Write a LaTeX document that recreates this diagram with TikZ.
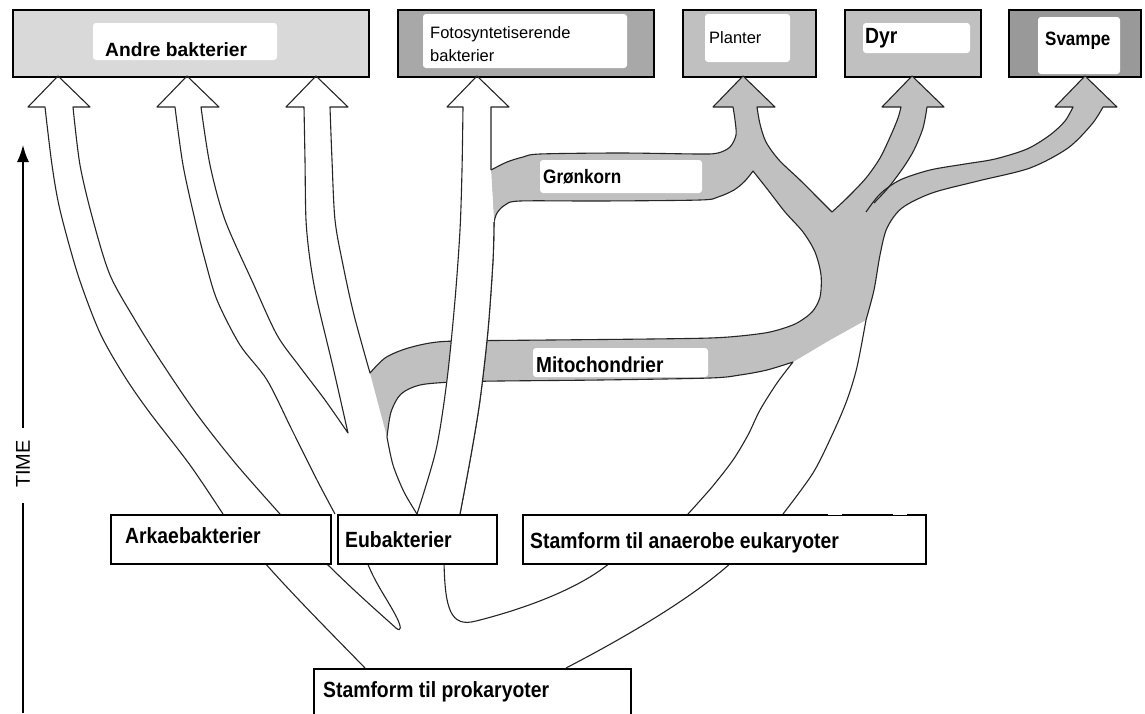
\documentclass[tikz,border=0pt]{standalone}
\usepackage{fontspec}
\setmainfont{Liberation Sans}
\newfontfamily\narrowsans[FakeStretch=0.88]{Liberation Sans}
\usetikzlibrary{arrows.meta}
\definecolor{bandgrey}{RGB}{192,192,192}
\definecolor{boxlight}{RGB}{217,217,217}
\definecolor{boxmid}{RGB}{192,192,192}
\definecolor{boxdark}{RGB}{168,168,168}
\definecolor{boxdarker}{RGB}{153,153,153}

% edges of the bands, #1 = connector in front of the plot
\newcommand\tiphead[2]{-- (#1-30,107) -- (#1,76) -- (#1+32,107) -- (#2,107)}
\newcommand\arrowCR[1]{#1 plot[smooth] coordinates {(330,107) (332,160) (335,220) (343,265) (354,315) (370,373)}}
\newcommand\mitoTop[1]{#1 plot[smooth] coordinates {(370,373) (385,358) (405,349) (430,343) (457,341) (550,340) (650,339) (710,338) (740,336) (770,332) (795,324) (812,312) (820,297) (821,275) (815,252) (803,232) (785,212) (768,190) (753,171)}}
\newcommand\gronBot[1]{#1 plot[smooth] coordinates {(753,171) (745,181) (734,190) (718,197) (700,200) (600,201) (520,201) (505,205) (497,213) (494,222)}}
\newcommand\gronTop[1]{#1 plot[smooth] coordinates {(491,170) (507,162) (523,157) (540,154) (620,153) (700,154) (718,153) (730,147) (736,135) (735,120) (733,107)}}
\newcommand\plantR[1]{#1 plot[smooth] coordinates {(757,107) (760,124) (766,142) (779,160) (800,180) (818,198) (832,212)}}
\newcommand\dyrL[1]{#1 plot[smooth] coordinates {(832,212) (848,197) (866,178) (880,158) (891,135) (898,118) (901,107)}}
\newcommand\dyrR[1]{#1 plot[smooth] coordinates {(927,107) (923,128) (914,150) (903,168) (888,188) (874,203)}}
\newcommand\svTop[1]{#1 plot[smooth] coordinates {(866,212) (880,194) (900,180) (930,170) (965,164) (995,159) (1027,149) (1050,135) (1065,121) (1073,107)}}
\newcommand\svLow[1]{#1 plot[smooth] coordinates {(1103,107) (1092,124) (1068,148) (1030,168) (978,181) (932,193) (902,208) (887,228) (880,255) (874,290) (866,320)}}
\newcommand\anaR[1]{#1 plot[smooth] coordinates {(866,320) (857,367) (847,400) (833,433) (813,473) (783,514)}}
\newcommand\anaL[1]{#1 plot[smooth] coordinates {(688,514) (712,487) (733,460) (748,435) (760,410) (777,383) (793,362)}}
\newcommand\mitoBot[1]{#1 plot[smooth] coordinates {(793,362) (767,370) (740,375) (710,378) (600,380) (500,381) (453,382) (420,385) (401,394) (391,412) (387,437)}}
\newcommand\mitoCurl[1]{#1 plot[smooth] coordinates {(387,437) (393,465) (404,492) (417,514)}}
\newcommand\fotoL[1]{#1 plot[smooth] coordinates {(417,514) (436,450) (447,380) (455,300) (460,230) (462,170) (463,107)}}
\newcommand\fotoRbot[1]{#1 plot[smooth] coordinates {(494,222) (493,260) (488,330) (480,400) (471,455) (460,514)}}

\tikzset{
  edge/.style={line width=1.1pt, black!85, line join=round},
  topbox/.style={draw, line width=1.6pt, anchor=north west, minimum height=67pt, inner sep=0},
  lowbox/.style={draw, fill=white, line width=1.6pt, anchor=north west, minimum height=49pt, inner sep=0},
  boldtxt/.style={anchor=base west, inner sep=0, font=\bfseries\fontsize{19.2}{22}\selectfont},
  narrowtxt/.style={anchor=base west, inner sep=0, font=\narrowsans\bfseries\fontsize{#1}{24}\selectfont},
  thintxt/.style={anchor=base west, inner sep=0, font=\fontsize{16.5}{20}\selectfont},
  patch/.style={fill=white, rounded corners=3pt}
}

\begin{document}
\begin{tikzpicture}[x=1pt, y=-1pt]
\useasboundingbox (0,0) rectangle (1145,713);
\clip (0,0) rectangle (1145,713);
\fill[white] (0,0) rectangle (1145,713);

% top boxes
\node[topbox, fill=boxlight, minimum width=356pt] (andre) at (12,9) {};
\node[topbox, fill=boxdark, minimum width=256pt] (foto) at (397,9) {};
\node[topbox, fill=boxmid, minimum width=133pt] (planter) at (682,9) {};
\node[topbox, fill=boxmid, minimum width=136pt] (dyr) at (844,9) {};
\node[topbox, fill=boxdarker, minimum width=132pt] (svampe) at (1008,9) {};
\fill[patch] (93,23) rectangle (277,60);
\fill[patch] (423,14) rectangle (627,68);
\fill[patch] (705,14) rectangle (790,62);
\fill[patch] (863,23) rectangle (970,53);
\fill[patch] (1038,17) rectangle (1120,74);
\node[boldtxt] (andrelbl) at (105,56) {Andre bakterier};
\node[thintxt] (fotolbl) at (430,38) {Fotosyntetiserende};
\node[thintxt] (fotolbl2) at (430,61) {bakterier};
\node[thintxt] (plantlbl) at (709,43) {Planter};
\node[narrowtxt=22] (dyrlbl) at (865,43) {Dyr};
\node[narrowtxt=19.3] (svamplbl) at (1045,45) {Svampe};

% grey band: mitochondria, chloroplasts and eukaryote branches
\fill[bandgrey] \mitoTop{} \gronBot{--} -- (491,170) \gronTop{--} \tiphead{743}{757}
  \plantR{--} \dyrL{--} \tiphead{912}{927} \dyrR{--} \svTop{--} \tiphead{1085}{1103}
  \svLow{--} -- (830,340) -- (793,362) \mitoBot{--} -- cycle;

% outlines
\draw[edge] plot[smooth] coordinates {(223,514) (190,465) (150,413) (125,377) (100,333) (78,275) (60,210) (52,165) (45,107)}
  \tiphead{58}{73}
  -- plot[smooth] coordinates {(73,107) (80,165) (93,220) (110,275) (135,320) (160,360) (196,413) (236,464) (280,514)};
\draw[edge] plot[smooth] coordinates {(335,514) (317,480) (292,430) (267,380) (240,345) (217,300) (205,260) (195,220) (183,165) (175,107)}
  \tiphead{187}{201}
  -- plot[smooth] coordinates {(201,107) (210,165) (225,220) (253,283) (277,335) (300,367) (325,400) (348,433)}
  -- plot[smooth] coordinates {(348,433) (333,367) (317,300) (310,260) (306,220) (305,160) (304,107)}
  \tiphead{316}{330}
  \arrowCR{--} \mitoTop{--} \gronBot{--} \fotoRbot{--};
\draw[edge] \gronTop{} \tiphead{743}{757} \plantR{--} \dyrL{--} \tiphead{912}{927} \dyrR{--};
\draw[edge] \svTop{} \tiphead{1085}{1103} \svLow{--} \anaR{--};
\draw[edge] \anaL{} \mitoBot{--} \mitoCurl{--};

% photosynthetic bacteria shaft, in front of the band
\fill[white] (491,107) -- (491,170) -- (494,222) \fotoRbot{--} -- (417,514) \fotoL{--} -- cycle;
\draw[edge] \fotoL{} \tiphead{477}{491} -- (491,170);
\draw[edge] \fotoRbot{};

\fill[patch] (540,160) rectangle (702,193);
\fill[patch] (533,348) rectangle (708,377);
\node[narrowtxt=19.5] (gronlbl) at (543,183) {Grønkorn};
\node[narrowtxt=21.7] (mitolbl) at (536,372) {Mitochondrier};

% lower part
\draw[edge] (365,668) .. controls (330,632) and (295,597) .. (264,562);
\draw[edge] (325,562) .. controls (355,592) and (385,618) .. (396,628)
  .. controls (402,633) and (401,626) .. (397,618) .. controls (388,600) and (376,585) .. (367,562);
\draw[edge] (444,562) .. controls (445,608) and (450,628) .. (476,621) .. controls (520,610) and (578,590) .. (611,562);
\draw[edge] (566,668) .. controls (620,640) and (690,600) .. (732,562);

\node[lowbox, minimum width=220pt] (arkae) at (110,514) {};
\node[lowbox, minimum width=159pt] (eubak) at (337,514) {};
\node[lowbox, minimum width=403pt] (anaer) at (522,514) {};
\node[lowbox, minimum width=317pt, minimum height=70pt] (proka) at (313,668) {};
\draw[white, line width=2.5pt] (828,514) -- (842,514) (893,514) -- (907,514);
\node[narrowtxt=22] (arklbl) at (125,543) {Arkaebakterier};
\node[narrowtxt=22] (eulbl) at (345,547) {Eubakterier};
\node[narrowtxt=22] (analbl) at (530,548) {Stamform til anaerobe eukaryoter};
\node[narrowtxt=22] (prolbl) at (323,697) {Stamform til prokaryoter};

% time axis
\draw[line width=1.5pt, -{Latex[length=17pt,width=12pt]}] (23,428) -- (23,145);
\draw[line width=1.5pt] (23,503) -- (23,713);
\node[rotate=90, inner sep=0, font=\fontsize{20}{20}\selectfont] (timelbl) at (23,464) {TIME};
\end{tikzpicture}
\end{document}
